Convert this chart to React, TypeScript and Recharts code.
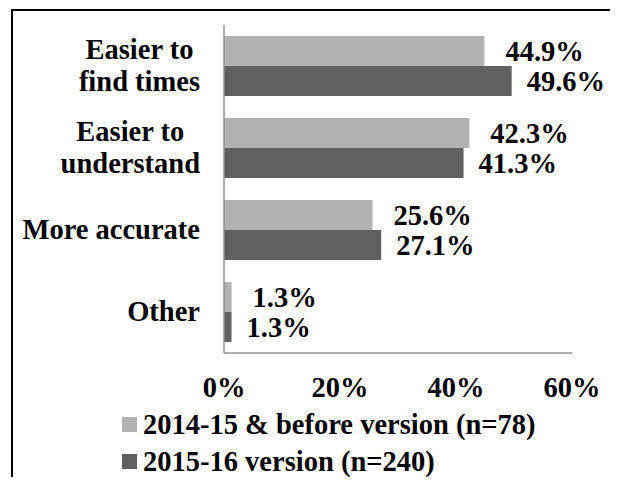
import React from "react";
import { BarChart, Bar, XAxis, YAxis, Legend, LabelList } from "recharts";

const categories = ["Easier to\nfind times", "Easier to\nunderstand", "More accurate", "Other"];
const beforeValues = [44.9, 42.3, 25.6, 1.3];
const currentValues = [49.6, 41.3, 27.1, 1.3];
const xTicks = [0, 20, 40, 60];
const seriesNames = ["2014-15 & before version (n=78)", "2015-16 version (n=240)"];

const data = categories.map((name, i) => ({
  name,
  before: beforeValues[i],
  current: currentValues[i],
}));

const FONT = "'Liberation Serif', 'Times New Roman', serif";
const FS = 28.5;
const LIGHT = "#b2b2b2";
const DARK = "#606060";
const AXIS = "#8f8f8f";

let ctx: CanvasRenderingContext2D | null = null;
function textWidth(s: string) {
  if (!ctx) ctx = document.createElement("canvas").getContext("2d");
  if (!ctx) return s.length * 13;
  ctx.font = `bold ${FS}px ${FONT}`;
  return ctx.measureText(s).width;
}

// multi-line category label, lines centred on each other, block right-aligned to the axis
function CategoryTick({ x, y, payload }: any) {
  const lines = String(payload.value).split("\n");
  const w = Math.max(...lines.map(textWidth));
  const cx = x - w / 2;
  const top = y - (lines.length * 32) / 2;
  return (
    <text textAnchor="middle" fontFamily={FONT} fontSize={FS} fontWeight="bold" fill="#000">
      {lines.map((l, i) => (
        <tspan key={i} x={cx} y={top + i * 32 + 25}>
          {l}
        </tspan>
      ))}
    </text>
  );
}

function LegendBox() {
  const colors = [LIGHT, DARK];
  return (
    <div style={{ fontFamily: FONT, fontSize: FS, fontWeight: "bold", color: "#000" }}>
      {seriesNames.map((n, i) => (
        <div key={n} style={{ display: "flex", alignItems: "center", height: 37, whiteSpace: "nowrap" }}>
          <span style={{ width: 15, height: 15, background: colors[i], marginRight: 6, display: "inline-block" }} />
          {n}
        </div>
      ))}
    </div>
  );
}

const pct = (v: any) => `${v}%`;

export default function App() {
  return (
    <div style={{ position: "relative", width: 610, height: 477, marginBottom: -8, overflow: "hidden" }}>
      <div
        style={{
          position: "absolute",
          left: 3,
          top: 1,
          width: 598,
          height: 600,
          border: "2px solid #000",
        }}
      />
      <BarChart
        width={610}
        height={477}
        data={data}
        layout="vertical"
        barSize={30}
        barGap={0}
        margin={{ top: 17, right: 46, bottom: 82, left: 0 }}
        style={{ position: "absolute", left: 0, top: 0 }}
      >
        <XAxis
          type="number"
          domain={[0, 60]}
          ticks={xTicks}
          tickFormatter={pct}
          height={50}
          tickSize={0}
          tickMargin={24}
          tickLine={false}
          axisLine={{ stroke: AXIS, strokeWidth: 1.5 }}
          tick={{ fontSize: FS, fontWeight: "bold", fill: "#000", fontFamily: FONT }}
        />
        <YAxis
          type="category"
          dataKey="name"
          width={216}
          tickSize={0}
          tickMargin={24}
          tickLine={false}
          axisLine={{ stroke: AXIS, strokeWidth: 1.5 }}
          tick={<CategoryTick />}
        />
        <Legend
          layout="vertical"
          align="center"
          verticalAlign="middle"
          content={<LegendBox />}
          wrapperStyle={{ left: 114, top: 398, width: "auto" }}
        />
        <Bar dataKey="before" name={seriesNames[0]} fill={LIGHT} isAnimationActive={false}>
          <LabelList
            dataKey="before"
            position="right"
            offset={21}
            formatter={pct}
            fill="#000"
            fontSize={FS}
            fontWeight="bold"
            fontFamily={FONT}
          />
        </Bar>
        <Bar dataKey="current" name={seriesNames[1]} fill={DARK} isAnimationActive={false}>
          <LabelList
            dataKey="current"
            position="right"
            offset={15}
            formatter={pct}
            fill="#000"
            fontSize={FS}
            fontWeight="bold"
            fontFamily={FONT}
          />
        </Bar>
      </BarChart>
    </div>
  );
}
